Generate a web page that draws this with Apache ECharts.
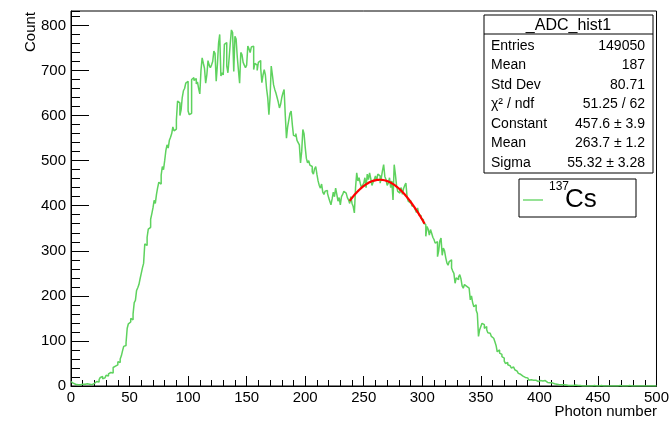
<!DOCTYPE html>
<html>
<head>
<meta charset="utf-8">
<script src="https://cdn.jsdelivr.net/npm/echarts@6/dist/echarts.min.js"></script>
<style>
html,body{margin:0;padding:0;background:#fff;}
#c{width:672px;height:422px;}
</style>
</head>
<body>
<div id="c"></div>
<script>
// Histogram: 500 bins of width 1 from 0 to 500
const binStart = 0;
const binWidth = 1;
const counts = [
  10, 6, 3, 4, 2, 3, 5, 3, 2, 4,
  3, 4, 2, 5, 3, 4, 6, 3, 5, 6,
  8, 10, 12, 9, 14, 19, 21, 16, 18, 21,
  24, 22, 27, 30, 33, 29, 41, 44, 40, 47,
  54, 52, 60, 67, 78, 88, 90, 96, 128, 138,
  142, 150, 147, 160, 185, 190, 212, 218, 225, 238,
  250, 262, 272, 315, 312, 330, 348, 352, 370, 382,
  395, 412, 405, 425, 440, 452, 448, 468, 487, 480,
  500, 522, 535, 528, 545, 552, 560, 575, 566, 570,
  590, 632, 628, 600, 612, 640, 655, 660, 672, 676,
  610, 602, 605, 680, 684, 678, 682, 670, 675, 660,
  648, 700, 728, 716, 705, 672, 690, 722, 712, 706,
  712, 720, 743, 738, 676, 712, 760, 780, 688, 695,
  690, 758, 762, 710, 695, 726, 760, 790, 784, 698,
  776, 770, 730, 700, 672, 740, 735, 718, 712, 706,
  712, 754, 748, 740, 752, 754, 702, 716, 712, 700,
  718, 722, 705, 673, 690, 702, 690, 660, 640, 602,
  640, 710, 690, 668, 658, 650, 640, 630, 617, 625,
  640, 650, 658, 600, 550, 575, 590, 605, 610, 580,
  556, 554, 560, 545, 540, 535, 495, 520, 569, 560,
  530, 505, 495, 500, 490, 487, 475, 470, 482, 487,
  470, 455, 445, 439, 448, 430, 425, 432, 434, 428,
  418, 410, 402, 415, 430, 420, 439, 425, 410, 418,
  402, 420, 425, 432, 428, 432, 418, 413, 405, 420,
  405, 398, 384, 440, 473, 455, 462, 450, 440, 445,
  450, 462, 440, 470, 458, 473, 460, 445, 452, 458,
  466, 455, 470, 466, 450, 462, 478, 491, 465, 458,
  445, 450, 462, 440, 455, 413, 491, 470, 445, 432,
  428, 435, 440, 425, 438, 445, 450, 420, 410, 406,
  412, 400, 398, 395, 391, 385, 395, 380, 378, 372,
  369, 362, 358, 332, 354, 348, 335, 347, 339, 330,
  325, 317, 320, 287, 300, 322, 328, 290, 306, 300,
  285, 273, 268, 276, 280, 262, 255, 250, 228, 240,
  236, 242, 247, 238, 222, 217, 225, 221, 218, 217,
  220, 191, 200, 185, 176, 180, 168, 161, 110, 125,
  132, 139, 136, 128, 132, 125, 118, 117, 120, 110,
  106, 102, 98, 90, 76, 80, 73, 70, 65, 62,
  55, 50, 52, 47, 45, 43, 40, 42, 39, 36,
  33, 30, 28, 26, 24, 22, 21, 19, 17, 18,
  15, 13, 14, 12, 13, 11, 13, 12, 10, 11,
  12, 10, 11, 9, 12, 11, 8, 9, 7, 6,
  7, 6, 5, 6, 4, 5, 3, 4, 3, 2,
  3, 2, 2, 3, 1, 2, 1, 2, 1, 1,
  2, 1, 1, 0, 1, 1, 0, 1, 0, 1,
  0, 1, 0, 1, 0, 0, 1, 0, 0, 1,
  0, 0, 1, 0, 0, 0, 0, 1, 0, 0,
  0, 1, 0, 0, 0, 0, 0, 0, 1, 0,
  0, 0, 0, 0, 0, 0, 1, 0, 0, 0,
  0, 0, 0, 0, 0, 0, 0, 0, 0, 0,
  0, 0, 0, 1, 0, 0, 0, 0, 0, 0
];

// Gaussian fit parameters (from the stats box) and fit range
const fitParams = { constant: 457.6, mean: 263.7, sigma: 55.32 };
const fitRange = [238, 302];

// Stats box text
const statsTitle = '_ADC_hist1';
const statsLabels = ['Entries', 'Mean', 'Std Dev', 'χ² / ndf', 'Constant', 'Mean', 'Sigma'];
const statsValues = ['149050', '187', '80.71', '51.25 / 62', '457.6 ± 3.9', '263.7 ± 1.2', '55.32 ± 3.28'];

const xTicks = { min: 0, max: 500, interval: 50 };
const yTicks = { min: 0, max: 832, interval: 100, minor: 20 };

// ---- build series data ----
const histData = counts.map((v, i) => [binStart + i * binWidth, v]);
histData.push([binStart + counts.length * binWidth, counts[counts.length - 1]]);

const fitData = [];
for (let x = fitRange[0]; x <= fitRange[1]; x += 0.5) {
  const z = (x - fitParams.mean) / fitParams.sigma;
  fitData.push([x, fitParams.constant * Math.exp(-0.5 * z * z)]);
}

const FONT = '"Liberation Sans", Arial, Helvetica, sans-serif';
const GREEN = '#5ed25e';

const chart = echarts.init(document.getElementById('c'), null, { renderer: 'canvas' });

const g = [];
const bx = 484, by = 15, bw = 169, bh = 158, titleH = 19;
g.push({ type: 'rect', shape: { x: bx, y: by, width: bw, height: bh }, style: { fill: '#fff', stroke: '#000', lineWidth: 1 }, z: 10 });
g.push({ type: 'line', shape: { x1: bx, y1: by + titleH, x2: bx + bw, y2: by + titleH }, style: { stroke: '#000', lineWidth: 1 }, z: 11 });
g.push({ type: 'text', x: bx + bw / 2, y: by + titleH / 2 + 1, style: { text: statsTitle, font: '16px ' + FONT, fill: '#000', textAlign: 'center', textVerticalAlign: 'middle' }, z: 11 });
statsLabels.forEach((lab, i) => {
  const yy = 46 + i * 19.5;
  g.push({ type: 'text', x: 491, y: yy, style: { text: lab, font: '14px ' + FONT, fill: '#000', textAlign: 'left', textVerticalAlign: 'middle' }, z: 11 });
  g.push({ type: 'text', x: 645, y: yy, style: { text: statsValues[i], font: '14px ' + FONT, fill: '#000', textAlign: 'right', textVerticalAlign: 'middle' }, z: 11 });
});
// Legend box
g.push({ type: 'rect', shape: { x: 519, y: 179, width: 117, height: 38 }, style: { fill: '#fff', stroke: '#000', lineWidth: 1 }, z: 10 });
g.push({ type: 'line', shape: { x1: 523, y1: 200, x2: 543, y2: 200 }, style: { stroke: GREEN, lineWidth: 1.3 }, z: 11 });
g.push({ type: 'text', x: 549, y: 187, style: { text: '137', font: '12px ' + FONT, fill: '#000', textAlign: 'left', textVerticalAlign: 'middle' }, z: 11 });
g.push({ type: 'text', x: 565, y: 200, style: { text: 'Cs', font: '26px ' + FONT, fill: '#000', textAlign: 'left', textVerticalAlign: 'middle' }, z: 11 });
// Axis titles
g.push({ type: 'text', x: 31, y: 12, rotation: Math.PI / 2, style: { text: 'Count', font: '15px ' + FONT, fill: '#000', textAlign: 'right', textVerticalAlign: 'middle' }, z: 11 });
g.push({ type: 'text', x: 657, y: 412, style: { text: 'Photon number', font: '15px ' + FONT, fill: '#000', textAlign: 'right', textVerticalAlign: 'middle' }, z: 11 });

chart.setOption({
  animation: false,
  backgroundColor: '#fff',
  grid: { left: 71, right: 14, top: 11, bottom: 36, show: true, borderColor: '#000', borderWidth: 1, backgroundColor: 'transparent' },
  xAxis: {
    type: 'value', min: xTicks.min, max: xTicks.max, interval: xTicks.interval,
    axisLine: { show: true, onZero: false, lineStyle: { color: '#000', width: 1 } },
    axisTick: { show: true, inside: true, length: 10, lineStyle: { color: '#000' } },
    minorTick: { show: true, splitNumber: 5, length: 6, lineStyle: { color: '#000' } },
    splitLine: { show: false },
    axisLabel: { margin: 4, fontSize: 15, fontFamily: FONT, color: '#000' }
  },
  yAxis: [
    {
      type: 'value', min: yTicks.min, max: yTicks.max, interval: yTicks.interval,
      axisLine: { show: true, onZero: false, lineStyle: { color: '#000', width: 1 } },
      axisTick: { show: true, inside: true, length: 18, lineStyle: { color: '#000' } },
      splitLine: { show: false },
      axisLabel: { margin: 5, fontSize: 15, fontFamily: FONT, color: '#000', showMaxLabel: false,
        formatter: v => (v % 100 === 0 ? String(v) : '') }
    },
    {
      type: 'value', position: 'left', offset: 0, min: yTicks.min, max: yTicks.max, interval: yTicks.minor,
      axisLine: { show: false },
      axisTick: { show: true, inside: true, length: 9, lineStyle: { color: '#000' } },
      splitLine: { show: false },
      axisLabel: { show: false }
    }
  ],
  series: [
    {
      type: 'line', name: '137Cs', data: histData, step: 'end', showSymbol: false,
      lineStyle: { color: GREEN, width: 1.5 }, itemStyle: { color: GREEN }, z: 3
    },
    {
      type: 'line', name: 'fit', data: fitData, showSymbol: false, smooth: true,
      lineStyle: { color: '#ff0000', width: 2.2 }, itemStyle: { color: '#ff0000' }, z: 4
    }
  ],
  graphic: g
});
</script>
</body>
</html>
